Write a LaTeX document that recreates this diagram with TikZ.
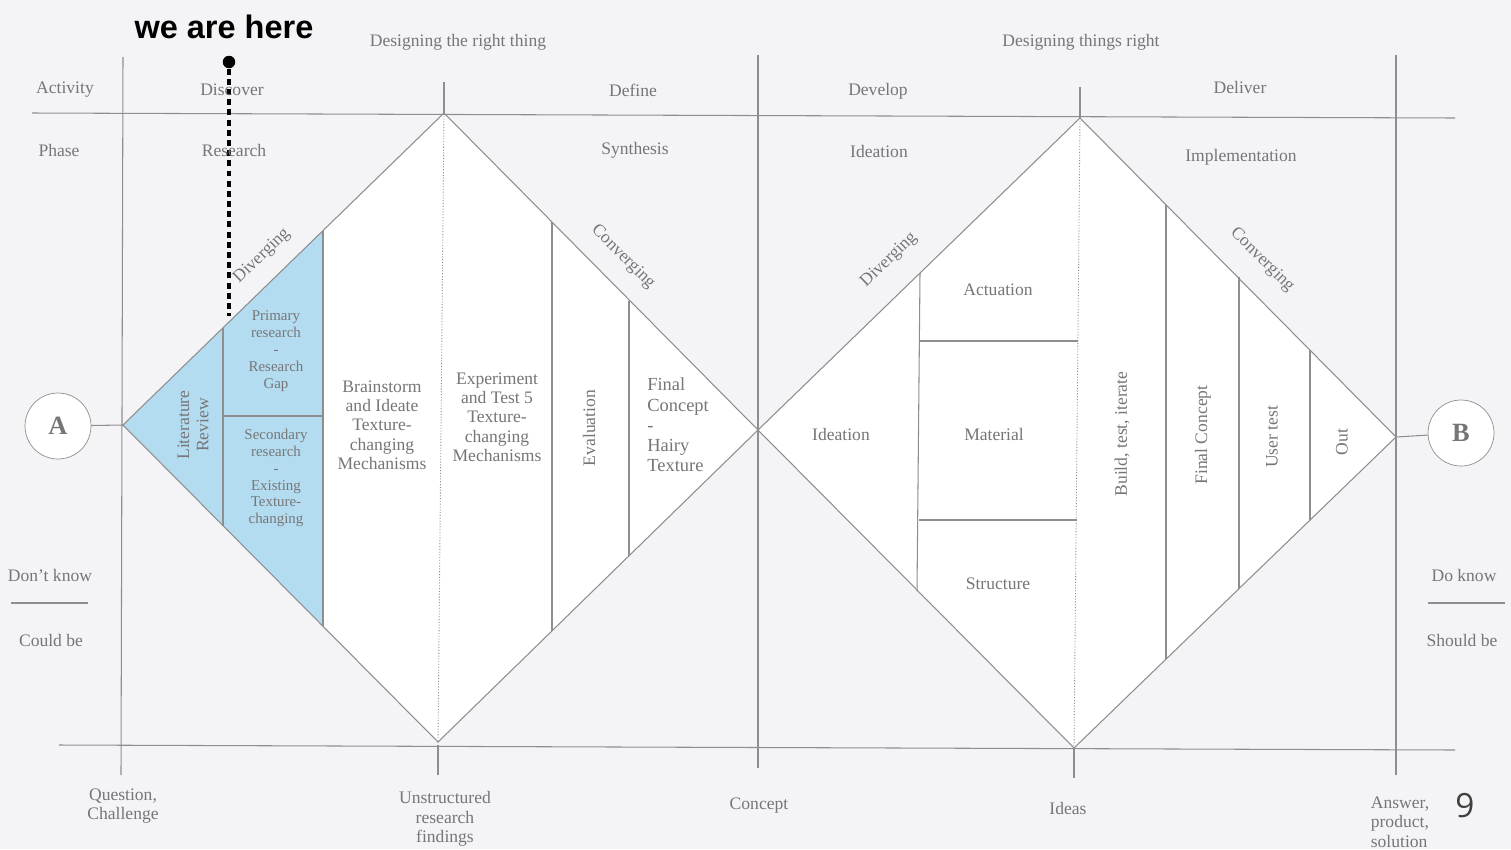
\documentclass[tikz,border=0pt]{standalone}
\usepackage{fontspec}
\setmainfont{Liberation Serif}
\newfontfamily\hintfont{Liberation Sans}
\newfontfamily\pagefont{Open Sans}
\usepackage{xcolor}
\definecolor{bggrey}{HTML}{F4F4F6}
\definecolor{txtgrey}{HTML}{767678}
\definecolor{lngrey}{HTML}{8E8E90}
\definecolor{litblue}{HTML}{B4DCF0}

\begin{document}
\begin{tikzpicture}[x=0.02cm,y=-0.02cm,
  line/.style={lngrey, line width=0.6pt},
  lbl/.style={text=txtgrey, font=\fontsize{10}{11}\selectfont, align=center, inner sep=0pt},
  smalllbl/.style={text=txtgrey, font=\fontsize{8.5}{9.6}\selectfont, align=center, inner sep=0pt},
  circ/.style={circle, draw=lngrey, fill=white, minimum size=1.32cm, text=txtgrey, font=\fontsize{15}{15}\selectfont\bfseries},
]

\fill[bggrey] (0,0) rectangle (1511,849);
\useasboundingbox (0,0) rectangle (1511,849);

% corners of the two diamonds
\coordinate (L1) at (123,425);
\coordinate (T1) at (444,113);
\coordinate (R1) at (758,430);
\coordinate (B1) at (438,742);
\coordinate (T2) at (1080,118);
\coordinate (R2) at (1396,437);
\coordinate (B2) at (1074,748);

\fill[white] (L1) -- (T1) -- (R1) -- (B1) -- cycle;
\fill[white] (R1) -- (T2) -- (R2) -- (B2) -- cycle;
\fill[litblue] (L1) -- (323,230.6) -- (323,626) -- cycle;

% grid
\draw[line] (32,113) -- (1455,118);
\draw[line] (59,745) -- (1455,750);
\draw[line] (123,57) -- (121,775);
\draw[line] (758,55) -- (758,768);
\draw[line] (1396,55) -- (1396,775);
\draw[line] (444,82) -- (T1);
\draw[line] (1080,87) -- (T2);
\draw[line] (438,745) -- (438,775);
\draw[line] (1074,748) -- (1074,778);

\draw[line] (L1) -- (T1) -- (R1) -- (B1) -- cycle;
\draw[line] (R1) -- (T2) -- (R2) -- (B2) -- cycle;
\draw[line, densely dotted, line width=0.5pt] (T1) -- (B1);
\draw[line, densely dotted, line width=0.5pt] (T2) -- (B2);

% first diamond
\draw[line] (223,327.8) -- (223,525.6);
\draw[line] (223,416) -- (323,416);
\draw[line] (323,230.6) -- (323,626);
\draw[line] (552,222) -- (552,631);
\draw[line] (629,301) -- (629,556);

% second diamond
\draw[line] (920,273) -- (917,591);
\draw[line] (920,341) -- (1078,341);
\draw[line] (919,520) -- (1077,520);
\draw[line] (1166,205) -- (1166,659);
\draw[line] (1239,277) -- (1239,589);
\draw[line] (1310,350) -- (1310,520);

\node[circ] (A) at (58,426) {A};
\node[circ] (B) at (1461,433) {B};
\draw[line] (A) -- (L1);
\draw[line] (R2) -- (B);

% we are here
\node[font=\hintfont\bfseries\fontsize{18.5}{18.5}\selectfont, inner sep=0pt] (here) at (224,27) {we are here};
\node[circle, fill=black, minimum size=0.25cm, inner sep=0pt] (dot) at (229,62) {};
\coordinate (dashend) at (229,316);
\draw[black, line width=2pt, dash pattern=on 3.4pt off 2.4pt] (dot) -- (dashend);

% headers
\node[lbl] (drt) at (458,42) {Designing the right thing};
\node[lbl] (dtr) at (1081,42) {Designing things right};
\node[lbl] (act) at (65,90) {Activity};
\node[lbl] (disc) at (232,90) {Discover};
\node[lbl] (defi) at (633,90) {Define};
\node[lbl] (deve) at (878,91) {Develop};
\node[lbl] (deli) at (1240,87) {Deliver};
\node[lbl] (phase) at (59,150) {Phase};
\node[lbl] (rese) at (234,150) {Research};
\node[lbl] (synt) at (635,150) {Synthesis};
\node[lbl] (idea) at (879,151) {Ideation};
\node[lbl] (impl) at (1241,157) {Implementation};

\node[lbl, rotate=44] (div1) at (262,256) {Diverging};
\node[lbl, rotate=-45] (con1) at (623,257) {Converging};
\node[lbl, rotate=44] (div2) at (889,260) {Diverging};
\node[lbl, rotate=-45] (con2) at (1262,260) {Converging};

% inside the first diamond
\node[lbl, rotate=90] (litr) at (193,425) {Literature\\Review};
\node[smalllbl] (prim) at (276,351) {Primary\\research\\-\\Research\\Gap};
\node[smalllbl] (seco) at (276,478) {Secondary\\research\\-\\Existing\\Texture-\\changing};
\node[lbl] (brai) at (382,425) {Brainstorm\\and Ideate\\Texture-\\changing\\Mechanisms};
\node[lbl] (expe) at (497,417) {Experiment\\and Test 5\\Texture-\\changing\\Mechanisms};
\node[lbl, rotate=90] (eval) at (589,428) {Evaluation};
\node[lbl, align=left, anchor=west, font=\fontsize{10.5}{11.5}\selectfont] (fin1) at (647,425) {Final\\Concept\\-\\Hairy\\Texture};

% inside the second diamond
\node[lbl] (ideb) at (841,434) {Ideation};
\node[lbl] (actu) at (998,290) {Actuation};
\node[lbl] (mate) at (994,434) {Material};
\node[lbl] (stru) at (998,584) {Structure};
\node[lbl, rotate=90] (buil) at (1122,434) {Build, test, iterate};
\node[lbl, rotate=90] (fin2) at (1203,435) {Final Concept};
\node[lbl, rotate=90] (user) at (1272,437) {User test};
\node[lbl, rotate=90] (out) at (1342,442) {Out};

% side notes
\node[lbl] (dont) at (50,575) {Don't know};
\draw[line] (11,603) -- (88,603);
\node[lbl] (could) at (51,640) {Could be};
\node[lbl] (dokn) at (1464,575) {Do know};
\draw[line] (1428,603) -- (1505,603);
\node[lbl] (should) at (1462,640) {Should be};

% bottom
\node[lbl] (ques) at (123,806) {Question,\\Challenge};
\node[lbl] (unst) at (445,819) {Unstructured\\research\\findings};
\node[lbl] (conc) at (759,806) {Concept};
\node[lbl] (ideas) at (1068,808) {Ideas};
\node[lbl, align=left] (answ) at (1400,822) {Answer,\\product,\\solution};
\node[font=\pagefont\fontsize{19}{19}\selectfont, text=black!75, inner sep=0pt] (page) at (1465,806) {9};
\end{tikzpicture}
\end{document}
